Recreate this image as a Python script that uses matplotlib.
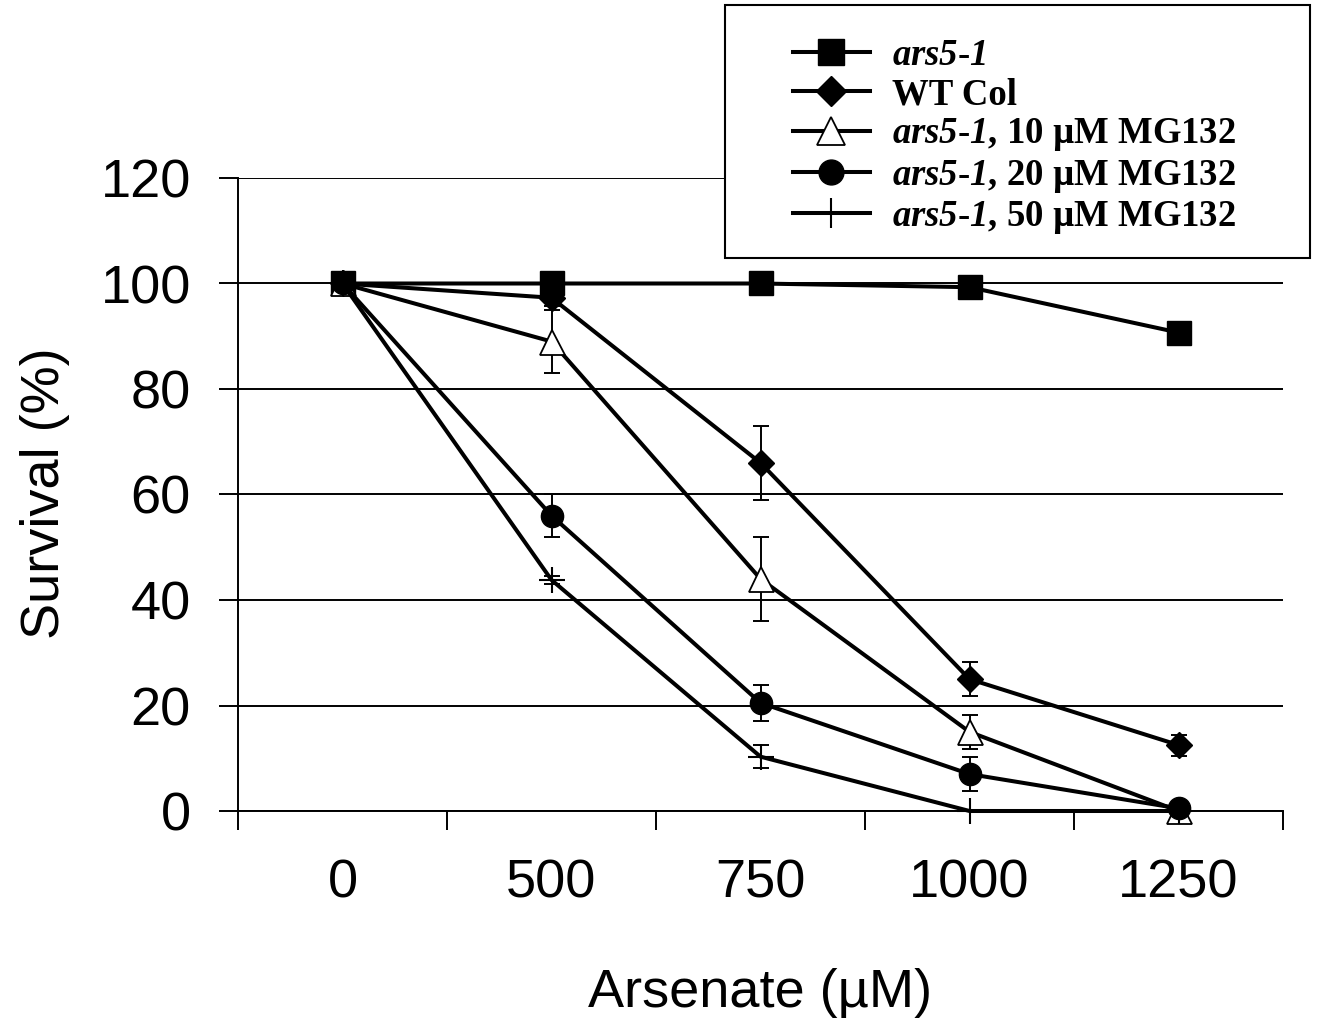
import matplotlib
matplotlib.use('Agg')
import matplotlib.pyplot as plt
from matplotlib.patches import Rectangle
import numpy as np

plt.rcParams['mathtext.fontset'] = 'custom'
plt.rcParams['mathtext.it'] = 'Liberation Serif:italic:bold'
plt.rcParams['mathtext.rm'] = 'Liberation Serif:italic:bold'
plt.rcParams['mathtext.bf'] = 'Liberation Serif:italic:bold'

categories = ['0', '500', '750', '1000', '1250']
yticks = [0, 20, 40, 60, 80, 100, 120]

ars5 = [100, 100, 100, 99.3, 90.7]
ars5_err = [0, 0.6, 0.6, 0.8, 1.5]
wt = [100, 97.3, 66, 25, 12.5]
wt_err = [0, 1.5, 7, 3.2, 2]
mg10 = [100, 89, 44, 15, 0]
mg10_err = [0, 6, 8, 3.2, 0.8]
mg20 = [100, 56, 20.5, 7, 0.5]
mg20_err = [0, 4, 3.4, 3.2, 0.5]
mg50 = [100, 43.8, 10.3, 0, 0]
mg50_err = [0, 0.8, 2.2, 0, 0]

labels = [r'$ars5$-$1$',
          'WT Col',
          r'$ars5$-$1$, 10 µM MG132',
          r'$ars5$-$1$, 20 µM MG132',
          r'$ars5$-$1$, 50 µM MG132']

fig = plt.figure(figsize=(13.17, 10.21), dpi=100)
ax = fig.add_axes([238/1317, 1-811/1021, (1283-238)/1317, (811-178)/1021])

x = np.arange(len(categories))
series = [
    (ars5, ars5_err, dict(marker='s', markersize=17, markerfacecolor='black')),
    (wt, wt_err, dict(marker='D', markersize=13.5, markerfacecolor='black')),
    (mg10, mg10_err, dict(marker='^', markersize=18, markerfacecolor='white', markeredgewidth=1.3)),
    (mg20, mg20_err, dict(marker='o', markersize=16, markerfacecolor='black')),
    (mg50, mg50_err, dict(marker='+', markersize=19, markeredgewidth=1.5)),
]

handles = []
for (vals, errs, style), lab in zip(series, labels):
    ax.errorbar(x, vals, yerr=errs, fmt='none', ecolor='black', elinewidth=1.4,
                capsize=5.8, capthick=1.4, zorder=3)
    h, = ax.plot(x, vals, color='black', linewidth=2.9, markeredgecolor='black',
                 label=lab, zorder=4, clip_on=False, **style)
    handles.append(h)

ax.set_xlim(-0.5, len(categories) - 0.5)
ax.set_ylim(0, 120)
ax.set_yticks(yticks)
ax.set_yticklabels([str(v) for v in yticks], fontsize=39, family='Liberation Sans')
ax.set_xticks(x)
ax.set_xticklabels(categories, fontsize=39, family='Liberation Sans')
ax.set_xticks(np.arange(-0.5, len(categories)), minor=True)
ax.tick_params(axis='x', which='major', length=0, pad=34)
ax.tick_params(axis='x', which='minor', length=14, width=1.4, direction='out')
ax.tick_params(axis='y', which='major', length=14, width=1.4, direction='out', pad=20)

ax.yaxis.grid(True, color='black', linewidth=1.4, zorder=0)
ax.set_axisbelow(True)
for s in ['top', 'right']:
    ax.spines[s].set_visible(False)
for s in ['left', 'bottom']:
    ax.spines[s].set_linewidth(1.4)

ax.set_xlabel('Arsenate (µM)', fontsize=39, family='Liberation Sans')
ax.set_ylabel('Survival (%)', fontsize=39, family='Liberation Sans')
ax.xaxis.set_label_coords((760-238)/1045, (811-993)/633)
ax.xaxis.label.set_va('center')
ax.yaxis.set_label_coords((45-238)/1045, (811-493)/633)
ax.yaxis.label.set_va('center')

fig.patches.append(Rectangle((725/1317, 1-258/1021), 585/1317, 253/1021,
                             transform=fig.transFigure, facecolor='white',
                             edgecolor='black', linewidth=1.5, zorder=4))
leg = fig.legend(handles=handles, loc='upper left',
                 bbox_to_anchor=(793/1317, 1-38/1021), frameon=False,
                 prop={'family': 'Liberation Serif', 'weight': 'bold', 'size': 26.5},
                 handlelength=2.09, handletextpad=0.6, labelspacing=0.115,
                 markerscale=1.12, borderpad=0, borderaxespad=0)
leg.set_zorder(6)

fig.savefig('out.png', dpi=100)
